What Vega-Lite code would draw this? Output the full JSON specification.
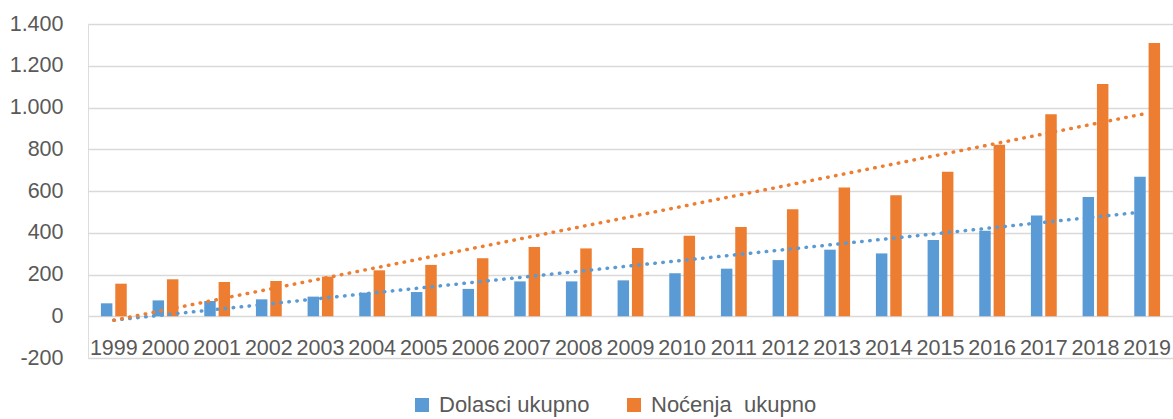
{
  "$schema": "https://vega.github.io/schema/vega-lite/v6.json",
  "autosize": {"type": "none"},
  "padding": {"left": 88, "top": 24, "right": 0, "bottom": 61},
  "width": 1085,
  "height": 334,
  "background": "white",
  "data": {"values": [
    {"year": 1999, "series": "Dolasci ukupno", "value": 62},
    {"year": 2000, "series": "Dolasci ukupno", "value": 76},
    {"year": 2001, "series": "Dolasci ukupno", "value": 73},
    {"year": 2002, "series": "Dolasci ukupno", "value": 81},
    {"year": 2003, "series": "Dolasci ukupno", "value": 94},
    {"year": 2004, "series": "Dolasci ukupno", "value": 113},
    {"year": 2005, "series": "Dolasci ukupno", "value": 116},
    {"year": 2006, "series": "Dolasci ukupno", "value": 131},
    {"year": 2007, "series": "Dolasci ukupno", "value": 167},
    {"year": 2008, "series": "Dolasci ukupno", "value": 167},
    {"year": 2009, "series": "Dolasci ukupno", "value": 172},
    {"year": 2010, "series": "Dolasci ukupno", "value": 206},
    {"year": 2011, "series": "Dolasci ukupno", "value": 228},
    {"year": 2012, "series": "Dolasci ukupno", "value": 269},
    {"year": 2013, "series": "Dolasci ukupno", "value": 319},
    {"year": 2014, "series": "Dolasci ukupno", "value": 301},
    {"year": 2015, "series": "Dolasci ukupno", "value": 365},
    {"year": 2016, "series": "Dolasci ukupno", "value": 410},
    {"year": 2017, "series": "Dolasci ukupno", "value": 483},
    {"year": 2018, "series": "Dolasci ukupno", "value": 571},
    {"year": 2019, "series": "Dolasci ukupno", "value": 668},
    {"year": 1999, "series": "Noćenja\u00a0 ukupno", "value": 156},
    {"year": 2000, "series": "Noćenja\u00a0 ukupno", "value": 177},
    {"year": 2001, "series": "Noćenja\u00a0 ukupno", "value": 164},
    {"year": 2002, "series": "Noćenja\u00a0 ukupno", "value": 169},
    {"year": 2003, "series": "Noćenja\u00a0 ukupno", "value": 190},
    {"year": 2004, "series": "Noćenja\u00a0 ukupno", "value": 220},
    {"year": 2005, "series": "Noćenja\u00a0 ukupno", "value": 246},
    {"year": 2006, "series": "Noćenja\u00a0 ukupno", "value": 278},
    {"year": 2007, "series": "Noćenja\u00a0 ukupno", "value": 332},
    {"year": 2008, "series": "Noćenja\u00a0 ukupno", "value": 325},
    {"year": 2009, "series": "Noćenja\u00a0 ukupno", "value": 327},
    {"year": 2010, "series": "Noćenja\u00a0 ukupno", "value": 386},
    {"year": 2011, "series": "Noćenja\u00a0 ukupno", "value": 427},
    {"year": 2012, "series": "Noćenja\u00a0 ukupno", "value": 512},
    {"year": 2013, "series": "Noćenja\u00a0 ukupno", "value": 617},
    {"year": 2014, "series": "Noćenja\u00a0 ukupno", "value": 580},
    {"year": 2015, "series": "Noćenja\u00a0 ukupno", "value": 692},
    {"year": 2016, "series": "Noćenja\u00a0 ukupno", "value": 821},
    {"year": 2017, "series": "Noćenja\u00a0 ukupno", "value": 968},
    {"year": 2018, "series": "Noćenja\u00a0 ukupno", "value": 1112},
    {"year": 2019, "series": "Noćenja\u00a0 ukupno", "value": 1309}
  ]},
  "encoding": {
    "x": {
      "field": "year", "type": "ordinal",
      "scale": {"paddingInner": 0.5, "paddingOuter": 0.25},
      "axis": {"title": null, "labelAngle": 0, "ticks": false, "domain": false, "grid": false,
               "offset": -41.7, "labelPadding": 21, "labelFontSize": 21.5, "labelFont": "Liberation Sans",
               "labelColor": "#595959", "labelBaseline": "top"}
    },
    "y": {
      "field": "value", "type": "quantitative",
      "scale": {"domain": [-200, 1400], "nice": false, "zero": false},
      "axis": {"title": null, "values": [-200, 0, 200, 400, 600, 800, 1000, 1200, 1400],
               "labelExpr": "replace(replace(format(datum.value, ','), ',', '.'), '\u2212', '-')",
               "ticks": false, "domain": false, "gridColor": "#d9d9d9", "gridWidth": 1.5,
               "labelPadding": 25, "labelFontSize": 21.5, "labelFont": "Liberation Sans", "labelColor": "#595959"}
    },
    "color": {
      "field": "series", "type": "nominal",
      "scale": {"domain": ["Dolasci ukupno", "Noćenja\u00a0 ukupno"], "range": ["#5B9BD5", "#ED7D31"]},
      "legend": {"title": null, "orient": "none", "legendX": 323, "legendY": 370, "direction": "horizontal", "symbolType": "square",
                 "symbolSize": 196, "symbolStrokeWidth": 0, "labelFontSize": 22, "labelFont": "Liberation Sans",
                 "labelColor": "#595959", "columnPadding": 33, "labelOffset": 6, "labelLimit": 0}
    }
  },
  "layer": [
    {
      "mark": {"type": "bar"},
      "encoding": {
        "xOffset": {"field": "series", "type": "nominal", "scale": {"paddingInner": 0.2}}
      }
    },
    {
      "transform": [{"regression": "value", "on": "year", "groupby": ["series"]}],
      "mark": {"type": "line", "strokeDash": [0.5, 7.5], "strokeCap": "round", "strokeWidth": 3.5},
      "encoding": {}
    }
  ]
}
